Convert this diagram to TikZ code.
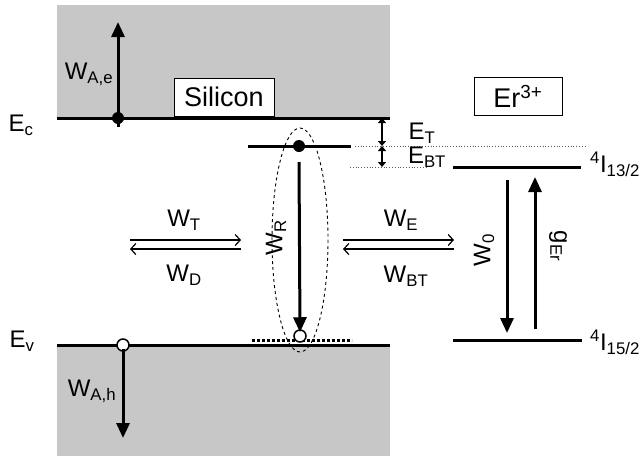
\documentclass[tikz,border=0pt]{standalone}
\usepackage{fontspec}
\setmainfont{Liberation Sans}
\usetikzlibrary{arrows.meta}
\usetikzlibrary{positioning}

\begin{document}
\begin{tikzpicture}[
  x=1pt, y=-1pt,
  band/.style    = {fill=black!22, draw=none},
  level/.style   = {line width=3pt},
  guide/.style   = {line width=0.8pt, black!65, dotted},
  tag/.style     = {inner sep=0pt, font=\fontsize{24}{26}\selectfont},
  box/.style     = {draw, line width=0.8pt, fill=white, minimum width=100pt, minimum height=38pt, inner sep=0pt, font=\fontsize{27}{30}\selectfont},
  bigarrow/.style= {line width=3pt, -{Triangle[length=15pt,width=13pt]}},
  rate/.style    = {line width=1.2pt, -{Straight Barb[length=5pt,width=11pt]}},
  gap/.style     = {line width=1.4pt, {Triangle[length=5pt,width=8pt]}-{Triangle[length=5pt,width=8pt]}},
  electron/.style= {circle, fill=black, inner sep=0pt, minimum size=12pt},
  hole/.style    = {circle, draw, line width=1.5pt, fill=white, inner sep=0pt, minimum size=12pt}
]
  \useasboundingbox (0,0) rectangle (639,456);

  % silicon bands
  \fill[band] (57,5) rectangle (390,118);
  \fill[band] (57,345) rectangle (390,456);
  \coordinate (ecL) at (57,118);  \coordinate (ecR) at (390,118);
  \coordinate (evL) at (57,345);  \coordinate (evR) at (390,345);
  \draw[level] (ecL) -- (ecR);
  \draw[level] (evL) -- (evR);
  \node[tag] (ec) at (21,125) {E\textsubscript{c}};
  \node[tag] (ev) at (22,341) {E\textsubscript{v}};

  \node[box] (si) at (224,97) {Silicon};
  \node[box, minimum width=88pt] (er) at (518,96) {Er\textsuperscript{3+}};

  % trap level and erbium levels
  \coordinate (trL) at (248,146); \coordinate (trR) at (351,146);
  \draw[level] (trL) -- (trR);
  \coordinate (hiL) at (453,167); \coordinate (hiR) at (581,167);
  \coordinate (loL) at (453,340); \coordinate (loR) at (582,340);
  \draw[level] (hiL) -- (hiR);
  \draw[level] (loL) -- (loR);
  \node[tag, anchor=west] (i13) at (590,164) {\textsuperscript{4}I\textsubscript{13/2}};
  \node[tag, anchor=west] (i15) at (590,342) {\textsuperscript{4}I\textsubscript{15/2}};

  \coordinate (g1L) at (355,146); \coordinate (g1R) at (585,146);
  \coordinate (g2L) at (350,167); \coordinate (g2R) at (426,167);
  \draw[guide] (g1L) -- (g1R);
  \draw[guide] (g2L) -- (g2R);
  \coordinate (dA) at (382,118); \coordinate (dB) at (382,146); \coordinate (dC) at (382,167);
  \draw[gap] (dA) -- (dB);
  \draw[gap] (dB) -- (dC);
  \node[tag] (et)  at (422,133) {E\textsubscript{T}};
  \node[tag] (ebt) at (427,157) {E\textsubscript{BT}};

  % Auger
  \node[electron] (e1) at (118,118) {};
  \coordinate (e1top) at (118,22);
  \draw[bigarrow] ([yshift=-15pt]e1.north) -- (e1top);
  \node[tag] (wae) at (89,74) {W\textsubscript{A,e}};
  \node[hole] (h1) at (123,345) {};
  \coordinate (h1bot) at (123,438);
  \draw[bigarrow] ([yshift=3pt]h1.south) -- (h1bot);
  \node[tag] (wah) at (92,391) {W\textsubscript{A,h}};

  % recombination at the trap
  \draw[dashed, line width=0.9pt] (300,240) ellipse [x radius=28, y radius=112];
  \draw[line width=3pt, black, dash pattern=on 3pt off 2pt] (252,340) -- (352,340);
  \node[electron] (e2) at (299,146) {};
  \node[hole] (h2) at (300,336) {};
  \coordinate (wrTop) at (299,162);
  \draw[bigarrow] (wrTop) -- ([yshift=-3pt]h2.north);
  \node[tag, rotate=90] (wr) at (276,238) {W\textsubscript{R}};

  % transfer rates
  \coordinate (tA) at (130,240); \coordinate (tB) at (241,240);
  \coordinate (tC) at (130,249); \coordinate (tD) at (241,249);
  \draw[rate] (tA) -- (tB);
  \draw[rate] (tD) -- (tC);
  \node[tag] (wt) at (184,220) {W\textsubscript{T}};
  \node[tag] (wd) at (184,275) {W\textsubscript{D}};
  \coordinate (xA) at (343,240); \coordinate (xB) at (454,240);
  \coordinate (xC) at (343,249); \coordinate (xD) at (454,249);
  \draw[rate] (xA) -- (xB);
  \draw[rate] (xD) -- (xC);
  \node[tag] (we)  at (401,220) {W\textsubscript{E}};
  \node[tag] (wbt) at (406,276) {W\textsubscript{BT}};

  % erbium transitions
  \coordinate (w0top) at (507,180); \coordinate (w0bot) at (507,333);
  \draw[bigarrow] (w0top) -- (w0bot);
  \coordinate (gbot) at (535,329); \coordinate (gtop) at (535,177);
  \draw[bigarrow] (gbot) -- (gtop);
  \node[tag, rotate=90]  (w0) at (484,250) {W\textsubscript{0}};
  \node[tag, rotate=-90] (ge) at (558,246) {g\textsubscript{Er}};
\end{tikzpicture}
\end{document}
